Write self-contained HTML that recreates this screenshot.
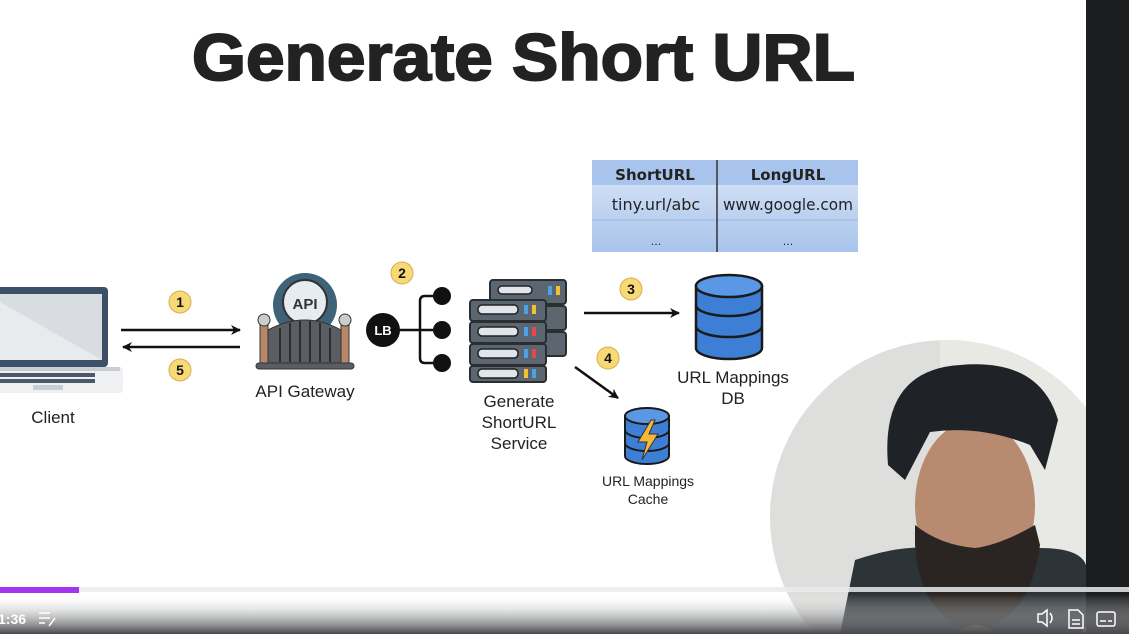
<!DOCTYPE html>
<html><head><meta charset="utf-8"><style>
html,body{margin:0;padding:0;}
body{width:1129px;height:634px;overflow:hidden;background:#fff;position:relative;font-family:"Liberation Sans",Arial,sans-serif;}
svg{position:absolute;left:0;top:0;font-family:"Liberation Sans",Arial,sans-serif;}
</style></head><body>
<svg width="1129" height="634" viewBox="0 0 1129 634" xmlns="http://www.w3.org/2000/svg">
<defs>
<marker id="ah" markerWidth="10" markerHeight="10" refX="9" refY="5" orient="auto" markerUnits="userSpaceOnUse"><path d="M0,0 L10,5 L0,10 L3,5z" fill="#111"/></marker>
<linearGradient id="cell" x1="0" y1="0" x2="0" y2="1"><stop offset="0" stop-color="#dbe7f8"/><stop offset="1" stop-color="#a9c4ec"/></linearGradient>
<linearGradient id="bar" x1="0" y1="0" x2="0" y2="1"><stop offset="0" stop-color="#fff" stop-opacity="0"/><stop offset="1" stop-color="#45474c"/></linearGradient>
<clipPath id="cc"><circle cx="947" cy="517" r="177"/></clipPath>
</defs>
<text x="192" y="80" font-size="66" font-weight="bold" fill="#222" textLength="663" lengthAdjust="spacingAndGlyphs" stroke="#222" stroke-width="2">Generate Short URL</text>

<!-- laptop -->
<rect x="-20" y="287" width="128" height="80" rx="4" fill="#3d5166"/>
<rect x="-14" y="294" width="116" height="66" fill="#d9dde2"/>
<path d="M-14,294 L102,360 L-14,360z" fill="#e8eaed"/>
<rect x="-25" y="367" width="148" height="26" rx="3" fill="#eef0f2"/>
<rect x="-20" y="367" width="140" height="4" fill="#c9cdd2"/>
<g fill="#4a5a6a"><rect x="0" y="373" width="95" height="4"/><rect x="0" y="379" width="95" height="4"/></g>
<rect x="33" y="385" width="30" height="5" fill="#c9ced4"/>
<text x="53" y="423" text-anchor="middle" font-size="17" fill="#222">Client</text>

<!-- arrows 1,5 -->
<line x1="121" y1="330" x2="240" y2="330" stroke="#111" stroke-width="2.5" marker-end="url(#ah)"/>
<line x1="240" y1="347" x2="123" y2="347" stroke="#111" stroke-width="2.5" marker-end="url(#ah)"/>
<g font-size="14" font-weight="bold" text-anchor="middle" fill="#111">
<circle cx="180" cy="302" r="11" fill="#f7d977" stroke="#d8b04a"/><text x="180" y="307">1</text>
<circle cx="180" cy="370" r="11" fill="#f7d977" stroke="#d8b04a"/><text x="180" y="375">5</text>
<circle cx="402" cy="273" r="11" fill="#f7d977" stroke="#d8b04a"/><text x="402" y="278">2</text>
<circle cx="631" cy="289" r="11" fill="#f7d977" stroke="#d8b04a"/><text x="631" y="294">3</text>
<circle cx="608" cy="358" r="11" fill="#f7d977" stroke="#d8b04a"/><text x="608" y="363">4</text>
</g>

<!-- API gateway -->
<circle cx="305" cy="305" r="32" fill="#3e6277"/>
<circle cx="305" cy="302" r="22" fill="#e6ecef" stroke="#333" stroke-width="2"/>
<text x="305" y="309" text-anchor="middle" font-size="15" font-weight="bold" fill="#333">API</text>
<rect x="260" y="325" width="8" height="38" fill="#b8876a" stroke="#333"/>
<rect x="341" y="325" width="8" height="38" fill="#b8876a" stroke="#333"/>
<circle cx="264" cy="320" r="6" fill="#ccc" stroke="#333"/><circle cx="345" cy="320" r="6" fill="#ccc" stroke="#333"/>
<path d="M268,330 Q305,310 341,330 L341,363 L268,363z" fill="#5a5e63" stroke="#333"/>
<g stroke="#2b2e31" stroke-width="2"><line x1="280" y1="328" x2="280" y2="362"/><line x1="290" y1="323" x2="290" y2="362"/><line x1="300" y1="321" x2="300" y2="362"/><line x1="310" y1="321" x2="310" y2="362"/><line x1="320" y1="323" x2="320" y2="362"/><line x1="330" y1="328" x2="330" y2="362"/></g>
<rect x="256" y="363" width="98" height="6" rx="3" fill="#5a5e63" stroke="#333"/>
<text x="305" y="397" text-anchor="middle" font-size="17" fill="#222">API Gateway</text>

<!-- LB -->
<circle cx="383" cy="330" r="17" fill="#111"/>
<text x="383" y="335" text-anchor="middle" font-size="13" font-weight="bold" fill="#fff">LB</text>
<line x1="398" y1="330" x2="442" y2="330" stroke="#111" stroke-width="2.5"/>
<path d="M442,296 L425,296 Q420,296 420,301 L420,358 Q420,363 425,363 L442,363" fill="none" stroke="#111" stroke-width="2.5"/>
<circle cx="442" cy="296" r="9" fill="#111"/><circle cx="442" cy="330" r="9" fill="#111"/><circle cx="442" cy="363" r="9" fill="#111"/>

<!-- servers -->
<g stroke="#2b2e31" stroke-width="2">
<rect x="490" y="280" width="76" height="24" rx="3" fill="#5c6670"/>
<rect x="490" y="306" width="76" height="24" rx="3" fill="#5c6670"/>
<rect x="490" y="332" width="76" height="24" rx="3" fill="#5c6670"/>
<rect x="470" y="300" width="76" height="21" rx="3" fill="#5c6670"/>
<rect x="470" y="322" width="76" height="21" rx="3" fill="#5c6670"/>
<rect x="470" y="344" width="76" height="21" rx="3" fill="#5c6670"/>
<rect x="470" y="366" width="76" height="16" rx="3" fill="#5c6670"/>
</g>
<g fill="#dfe5ea" stroke="#222" stroke-width="1.5">
<rect x="478" y="305" width="40" height="9" rx="4"/><rect x="478" y="327" width="40" height="9" rx="4"/><rect x="478" y="349" width="40" height="9" rx="4"/><rect x="478" y="369" width="40" height="9" rx="4"/><rect x="498" y="286" width="34" height="8" rx="4"/>
</g>
<g><rect x="524" y="305" width="4" height="9" fill="#4aa3e8"/><rect x="532" y="305" width="4" height="9" fill="#f2c230"/><rect x="524" y="327" width="4" height="9" fill="#4aa3e8"/><rect x="532" y="327" width="4" height="9" fill="#e24a4a"/><rect x="524" y="349" width="4" height="9" fill="#4aa3e8"/><rect x="532" y="349" width="4" height="9" fill="#e24a4a"/><rect x="524" y="369" width="4" height="9" fill="#f2c230"/><rect x="532" y="369" width="4" height="9" fill="#4aa3e8"/><rect x="548" y="286" width="4" height="9" fill="#4aa3e8"/><rect x="556" y="286" width="4" height="9" fill="#f2c230"/></g>
<g font-size="17" fill="#222" text-anchor="middle"><text x="519" y="407">Generate</text><text x="519" y="428">ShortURL</text><text x="519" y="449">Service</text></g>

<!-- arrows 3,4 -->
<line x1="584" y1="313" x2="679" y2="313" stroke="#111" stroke-width="2.5" marker-end="url(#ah)"/>
<line x1="575" y1="367" x2="618" y2="398" stroke="#111" stroke-width="2.5" marker-end="url(#ah)"/>

<!-- table -->
<rect x="592" y="160" width="266" height="92" fill="url(#cell)"/>
<rect x="592" y="160" width="266" height="26" fill="#a9c4ec"/>
<line x1="592" y1="186" x2="858" y2="186" stroke="#cfe0f6" stroke-width="2"/>
<line x1="592" y1="220" x2="858" y2="220" stroke="#9ab6e0" stroke-width="1"/>
<line x1="717" y1="160" x2="717" y2="252" stroke="#333" stroke-width="1.5"/>
<g font-family="DejaVu Sans" font-size="16" fill="#222" text-anchor="middle"><text x="655" y="180" font-weight="bold" font-size="15">ShortURL</text><text x="788" y="180" font-weight="bold" font-size="15">LongURL</text><text x="656" y="210">tiny.url/abc</text><text x="788" y="210" textLength="130" lengthAdjust="spacingAndGlyphs">www.google.com</text><text x="656" y="245" font-size="11">...</text><text x="788" y="245" font-size="11">...</text></g>

<!-- DB -->
<g stroke="#1a1a1a" stroke-width="2.5">
<path d="M696,286 L696,348 A33,11 0 0,0 762,348 L762,286z" fill="#3e7fd6"/>
<ellipse cx="729" cy="286" rx="33" ry="11" fill="#5a97e4"/>
<path d="M696,305 A33,11 0 0,0 762,305 M696,326 A33,11 0 0,0 762,326" fill="none"/>
</g>
<g font-size="17" fill="#222" text-anchor="middle"><text x="733" y="383">URL Mappings</text><text x="733" y="404">DB</text></g>

<!-- cache -->
<g stroke="#1a1a1a" stroke-width="2">
<path d="M625,416 L625,456 A22,8 0 0,0 669,456 L669,416z" fill="#3e7fd6"/>
<ellipse cx="647" cy="416" rx="22" ry="8" fill="#5a97e4"/>
<path d="M625,430 A22,8 0 0,0 669,430 M625,443 A22,8 0 0,0 669,443" fill="none"/>
</g>
<path d="M651,420 L638,442 L647,442 L642,460 L658,434 L649,434 L655,420z" fill="#f5b83a" stroke="#333" stroke-width="1"/>
<g font-size="14" fill="#222" text-anchor="middle"><text x="648" y="486">URL Mappings</text><text x="648" y="504">Cache</text></g>

<!-- video circle -->
<g clip-path="url(#cc)">
<rect x="760" y="330" width="330" height="310" fill="#dedfdc"/>
<rect x="940" y="330" width="146" height="310" fill="#e8e8e5"/>
<path d="M840,634 L855,560 Q900,545 930,548 L1040,548 Q1080,548 1086,565 L1086,634z" fill="#2d3438"/>
<ellipse cx="975" cy="505" rx="60" ry="85" fill="#b88a70"/>
<path d="M888,465 Q880,370 960,365 Q1040,358 1058,420 L1045,470 L1030,445 Q980,425 930,432 L905,480z" fill="#1f2226"/>
<path d="M915,545 Q920,615 970,630 Q1030,625 1040,545 L1035,525 Q1000,545 975,548 Q940,545 915,525z" fill="#2a2522"/>
<path d="M945,650 Q975,600 1010,650z" fill="#7a5a4a"/>
</g>
<rect x="1086" y="0" width="43" height="634" fill="#1c1d1f"/>

<!-- bottom bar -->
<rect x="0" y="594" width="1129" height="40" fill="url(#bar)"/>
<rect x="0" y="587" width="1129" height="5" fill="#e9ebec" opacity="0.85"/>
<rect x="0" y="587" width="79" height="6" fill="#a435f0"/>
<text x="-2" y="624" font-size="14" font-weight="bold" fill="#fff">1:36</text>
<g stroke="#fff" stroke-width="1.5" fill="none"><line x1="39" y1="613" x2="50" y2="613"/><line x1="39" y1="618" x2="50" y2="618"/><line x1="39" y1="623" x2="45" y2="623"/><line x1="49" y1="626" x2="55" y2="618"/>
<path d="M1038,614 L1042,614 L1047,610 L1047,626 L1042,622 L1038,622z M1050,613 Q1054,618 1050,623"/>
<path d="M1069,610 L1078,610 L1083,615 L1083,628 L1069,628z M1072,620 L1080,620 M1072,624 L1080,624"/>
<rect x="1097" y="612" width="18" height="14" rx="2"/><path d="M1100,621 L1106,621 M1108,621 L1112,621"/></g>
</svg>
</body></html>
